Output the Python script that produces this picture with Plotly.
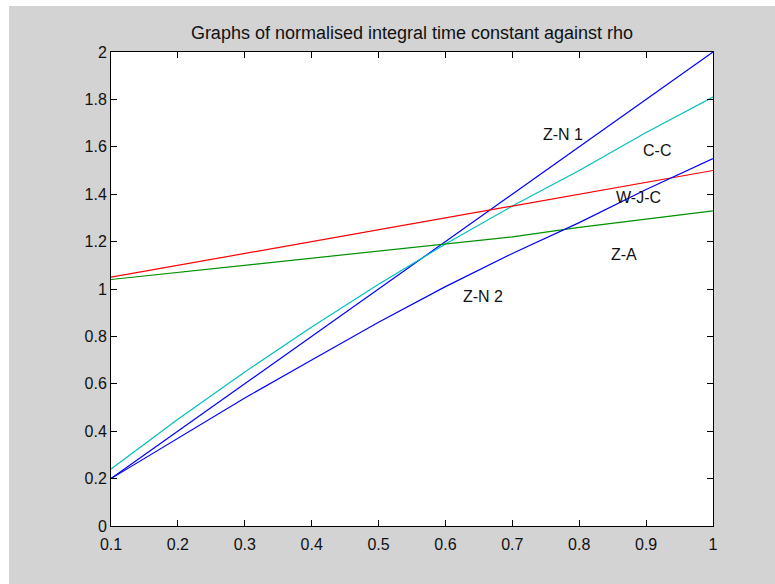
import plotly.graph_objects as go

rho = [0.1, 0.2, 0.3, 0.4, 0.5, 0.6, 0.7, 0.8, 0.9, 1.0]

zn1 = [0.20, 0.40, 0.60, 0.80, 1.00, 1.20, 1.40, 1.60, 1.80, 2.00]
cc = [0.24, 0.45, 0.65, 0.84, 1.02, 1.19, 1.35, 1.50, 1.66, 1.81]
wjc = [1.05, 1.10, 1.15, 1.20, 1.25, 1.30, 1.35, 1.40, 1.45, 1.50]
za = [1.04, 1.07, 1.10, 1.13, 1.16, 1.19, 1.22, 1.26, 1.295, 1.33]
zn2 = [0.20, 0.37, 0.54, 0.70, 0.86, 1.01, 1.15, 1.28, 1.42, 1.55]

x_ticks = [0.1, 0.2, 0.3, 0.4, 0.5, 0.6, 0.7, 0.8, 0.9, 1.0]
x_tick_text = ["0.1", "0.2", "0.3", "0.4", "0.5", "0.6", "0.7", "0.8", "0.9", "1"]
y_ticks = [0, 0.2, 0.4, 0.6, 0.8, 1.0, 1.2, 1.4, 1.6, 1.8, 2.0]
y_tick_text = ["0", "0.2", "0.4", "0.6", "0.8", "1", "1.2", "1.4", "1.6", "1.8", "2"]

# curve labels: text, x, y
label_text = ["Z-N 1", "C-C", "W-J-C", "Z-A", "Z-N 2"]
label_x = [0.776, 0.916, 0.888, 0.867, 0.656]
label_y = [1.65, 1.586, 1.387, 1.146, 0.968]

series = [
    (zn1, "#0000ff"),
    (cc, "#00bfbf"),
    (wjc, "#ff0000"),
    (za, "#009000"),
    (zn2, "#0000ff"),
]

fig = go.Figure()
for ys, col in series:
    fig.add_trace(go.Scatter(x=rho, y=ys, mode="lines",
                             line=dict(color=col, width=1.2),
                             showlegend=False, hoverinfo="skip"))

font = dict(family="Liberation Sans, Arial, sans-serif", size=16, color="#111111")
title_font = dict(family="Liberation Sans, Arial, sans-serif", size=18, color="#111111")

for t, lx, ly in zip(label_text, label_x, label_y):
    fig.add_annotation(x=lx, y=ly, text=t, showarrow=False, font=font)

W, H = 775, 584
L, R, T, B = 111, 62, 52, 58
pw, ph = W - L - R, H - T - B

def px(xp):
    return (xp - L) / pw

def py(yp):
    return 1 - (yp - T) / ph

# thin white strips along the top and left edges of the gray frame
fig.add_shape(type="rect", xref="paper", yref="paper", x0=px(0), x1=px(W),
              y0=py(6), y1=py(0), fillcolor="white", line=dict(width=0), layer="below")
fig.add_shape(type="rect", xref="paper", yref="paper", x0=px(0), x1=px(9),
              y0=py(H), y1=py(0), fillcolor="white", line=dict(width=0), layer="below")

axis_common = dict(showline=True, linecolor="black", linewidth=1, mirror="allticks",
                   ticks="inside", ticklen=6, tickcolor="black", tickwidth=1,
                   showgrid=False, zeroline=False, tickfont=font)

fig.update_layout(
    width=W, height=H,
    margin=dict(l=L, r=R, t=T, b=B),
    paper_bgcolor="#d3d3d3",
    plot_bgcolor="white",
    title=dict(text="Graphs of normalised integral time constant against rho",
               x=px(412), xanchor="center", xref="paper",
               y=1 - 33 / H, yanchor="middle", font=title_font),
    xaxis=dict(range=[0.1, 1.0], tickvals=x_ticks, ticktext=x_tick_text,
               ticklabelstandoff=4, **axis_common),
    yaxis=dict(range=[0, 2], tickvals=y_ticks, ticktext=y_tick_text, **axis_common),
)

fig.write_html("out.html")
